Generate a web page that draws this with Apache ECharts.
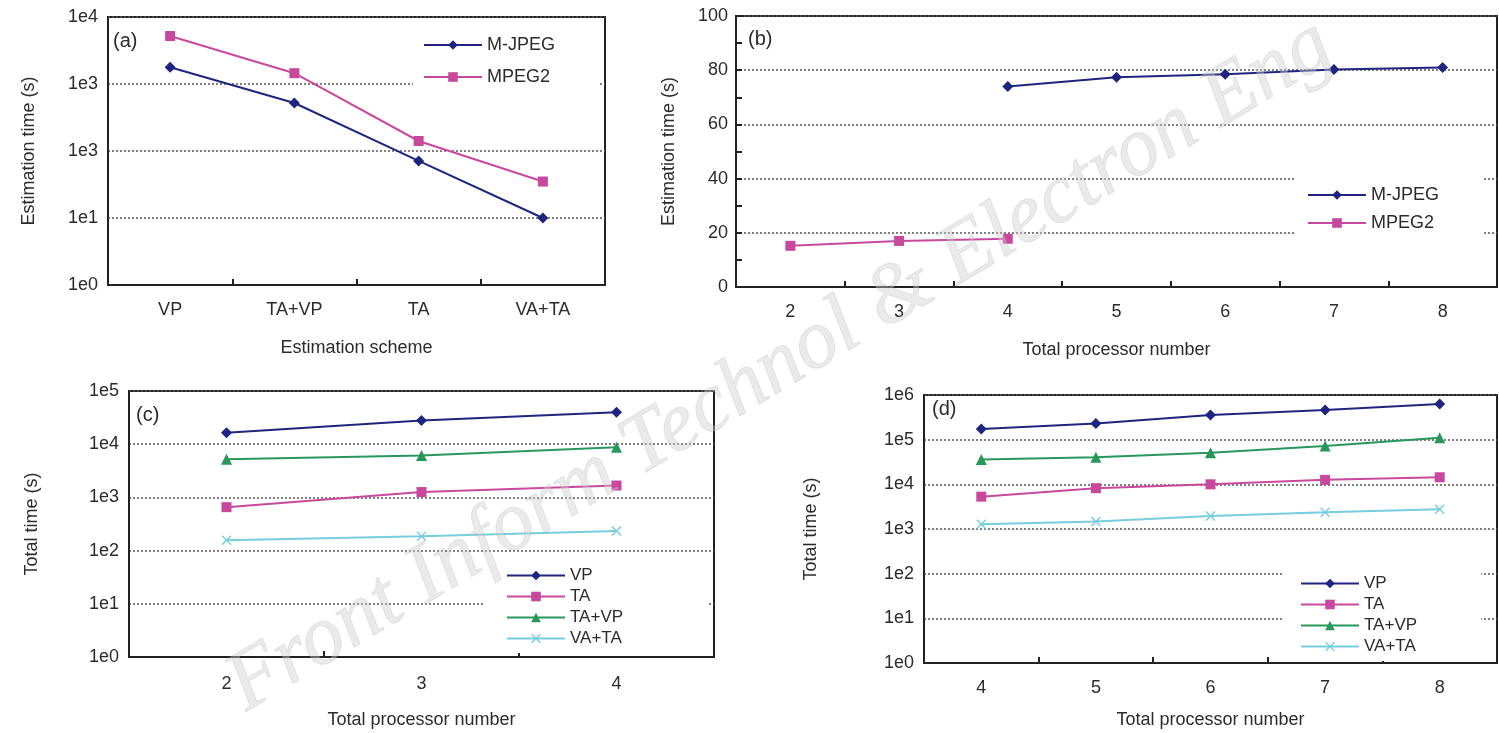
<!DOCTYPE html>
<html>
<head>
<meta charset="utf-8">
<title>Estimation and total time</title>
<script src="https://cdn.jsdelivr.net/npm/echarts@6/dist/echarts.min.js"></script>
<style>
  html, body { margin: 0; padding: 0; background: #fff; }
  #chartBox { width: 1499px; height: 733px; }
</style>
</head>
<body>
<div id="chartBox"></div>
<script>
// (a) estimation time per scheme
var schemes = ["VP", "TA+VP", "TA", "VA+TA"];
var aMjpeg = [1780, 520, 71, 10];
var aMpeg2 = [5200, 1450, 141, 35];
var aYLabels = ["1e0", "1e1", "1e3", "1e3", "1e4"]; // as printed in the figure

// (b) estimation time vs processor number
var bProcs = ["2", "3", "4", "5", "6", "7", "8"];
var bMjpeg = [null, null, 74, 77.4, 78.5, 80.3, 81];
var bMpeg2 = [15.2, 17, 17.8, null, null, null, null];

// (c) total time, M-JPEG
var cProcs = ["2", "3", "4"];
var cVP = [16400, 28000, 40000];
var cTA = [655, 1260, 1670];
var cTAVP = [5200, 6100, 8800];
var cVATA = [157, 187, 233];
var cYLabels = ["1e0", "1e1", "1e2", "1e3", "1e4", "1e5"];

// (d) total time, MPEG2
var dProcs = ["4", "5", "6", "7", "8"];
var dVP = [174000, 230000, 356000, 460000, 630000];
var dTA = [5300, 8200, 10000, 12600, 14400];
var dTAVP = [36000, 40600, 51000, 72000, 110000];
var dVATA = [1280, 1470, 1960, 2380, 2760];
var dYLabels = ["1e0", "1e1", "1e2", "1e3", "1e4", "1e5", "1e6"];

var navy = "#1e2580";
var pink = "#c8489e";
var green = "#27985a";
var cyan = "#76cde0";
var crossPath = "path://M0,1L1,0L5,4L9,0L10,1L6,5L10,9L9,10L5,6L1,10L0,9L4,5Z";
var font = "Liberation Sans";
var txt = "#2b2b2b";

function logFmt(labels) {
  return function(v) {
    var i = Math.round(Math.log(v) / Math.LN10);
    return labels[i] !== undefined ? labels[i] : "";
  };
}

function catAxis(idx, data, name, nameGap, labelMargin) {
  return {
    type: "category",
    gridIndex: idx,
    data: data,
    boundaryGap: true,
    name: name,
    nameLocation: "middle",
    nameGap: nameGap,
    nameTextStyle: { fontSize: 18, color: txt, fontFamily: font },
    axisLine: { show: true, lineStyle: { color: "#222", width: 2 } },
    axisTick: { show: true, inside: true, interval: 0, alignWithLabel: false, length: 6, lineStyle: { color: "#222", width: 2 } },
    axisLabel: { fontSize: 18, color: txt, fontFamily: font, margin: labelMargin }
  };
}

function logAxis(idx, maxV, labels, name, nameGap) {
  return {
    type: "log",
    logBase: 10,
    gridIndex: idx,
    min: 1,
    max: maxV,
    interval: 1,
    name: name,
    nameLocation: "middle",
    nameGap: nameGap,
    nameTextStyle: { fontSize: 18, color: txt, fontFamily: font },
    axisLine: { show: true, lineStyle: { color: "#222", width: 2 } },
    axisTick: { show: false },
    axisLabel: { fontSize: 18, color: txt, fontFamily: font, margin: 10, formatter: logFmt(labels) },
    splitLine: { show: true, lineStyle: { color: "#555", type: [2, 2], width: 1.5 } }
  };
}

function line(name, x, y, data, color, symbol, size) {
  return {
    name: name,
    type: "line",
    xAxisIndex: x,
    yAxisIndex: y,
    data: data,
    symbol: symbol,
    symbolSize: size,
    showSymbol: true,
    connectNulls: false,
    lineStyle: { color: color, width: 2 },
    itemStyle: { color: color },
    z: 3
  };
}

function legend(names, left, top, padding, gap, fs) {
  return {
    data: names,
    orient: "vertical",
    left: left,
    top: top,
    padding: padding,
    itemGap: gap,
    itemWidth: 58,
    itemHeight: 12,
    backgroundColor: "#fff",
    textStyle: { fontSize: fs, color: txt, fontFamily: font },
    z: 5
  };
}

var chart = echarts.init(document.getElementById("chartBox"));

var option = {
  animation: false,
  backgroundColor: "#fff",
  grid: [
    { left: 108, top: 17, width: 497, height: 268, show: true, borderColor: "#222", borderWidth: 2 },
    { left: 736, top: 16, width: 761, height: 271, show: true, borderColor: "#222", borderWidth: 2 },
    { left: 129, top: 391, width: 585, height: 266, show: true, borderColor: "#222", borderWidth: 2 },
    { left: 924, top: 395, width: 573, height: 268, show: true, borderColor: "#222", borderWidth: 2 }
  ],
  xAxis: [
    catAxis(0, schemes, "Estimation scheme", 54, 16),
    catAxis(1, bProcs, "Total processor number", 54, 16),
    catAxis(2, cProcs, "Total processor number", 54, 18),
    catAxis(3, dProcs, "Total processor number", 48, 16)
  ],
  yAxis: [
    logAxis(0, 10000, aYLabels, "Estimation time (s)", 70),
    {
      type: "value",
      gridIndex: 1,
      min: 0,
      max: 100,
      interval: 20,
      name: "Estimation time (s)",
      nameLocation: "middle",
      nameGap: 58,
      nameTextStyle: { fontSize: 18, color: txt, fontFamily: font },
      axisLine: { show: true, lineStyle: { color: "#222", width: 2 } },
      axisTick: { show: true, inside: true, length: 6, lineStyle: { color: "#222", width: 2 } },
      minorTick: { show: true, splitNumber: 2, length: 6, lineStyle: { color: "#222", width: 2 } },
      axisLabel: { fontSize: 18, color: txt, fontFamily: font, margin: 8 },
      splitLine: { show: true, lineStyle: { color: "#555", type: [2, 2], width: 1.5 } }
    },
    logAxis(2, 100000, cYLabels, "Total time (s)", 88),
    logAxis(3, 1000000, dYLabels, "Total time (s)", 104)
  ],
  legend: [
    legend(["M-JPEG", "MPEG2"], 413, 28, [8, 44, 8, 10], 14, 18),
    legend(["M-JPEG", "MPEG2"], 1296, 178, [8, 45, 8, 11], 10, 18),
    legend(["VP", "TA", "TA+VP", "VA+TA"], 484, 561, [6, 84, 6, 22], 4, 17),
    legend(["VP", "TA", "TA+VP", "VA+TA"], 1283, 567, [8, 64, 6, 17], 4, 17)
  ],
  series: [
    line("M-JPEG", 0, 0, aMjpeg, navy, "diamond", 11),
    line("MPEG2", 0, 0, aMpeg2, pink, "rect", 10),
    line("M-JPEG", 1, 1, bMjpeg, navy, "diamond", 11),
    line("MPEG2", 1, 1, bMpeg2, pink, "rect", 10),
    line("VP", 2, 2, cVP, navy, "diamond", 11),
    line("TA", 2, 2, cTA, pink, "rect", 10),
    line("TA+VP", 2, 2, cTAVP, green, "triangle", 11),
    line("VA+TA", 2, 2, cVATA, cyan, crossPath, 10),
    line("VP", 3, 3, dVP, navy, "diamond", 11),
    line("TA", 3, 3, dTA, pink, "rect", 10),
    line("TA+VP", 3, 3, dTAVP, green, "triangle", 11),
    line("VA+TA", 3, 3, dVATA, cyan, crossPath, 10)
  ],
  graphic: [
    { type: "text", left: 113, top: 31, style: { text: "(a)", font: "20px Liberation Sans", fill: txt } },
    { type: "text", left: 748, top: 29, style: { text: "(b)", font: "20px Liberation Sans", fill: txt } },
    { type: "text", left: 136, top: 405, style: { text: "(c)", font: "20px Liberation Sans", fill: txt } },
    { type: "text", left: 932, top: 399, style: { text: "(d)", font: "20px Liberation Sans", fill: txt } },
    {
      type: "text",
      x: 780,
      y: 366,
      rotation: 0.54,
      z: 100,
      silent: true,
      style: {
        text: "Front Inform Technol & Electron Eng",
        font: "italic 84px Liberation Serif",
        fill: "rgba(205,205,205,0.42)",
        stroke: "rgba(150,150,150,0.22)",
        lineWidth: 1,
        align: "center",
        verticalAlign: "middle"
      }
    }
  ]
};

chart.setOption(option);

window.addEventListener("resize", function() {
  chart.resize();
});
</script>
</body>
</html>
